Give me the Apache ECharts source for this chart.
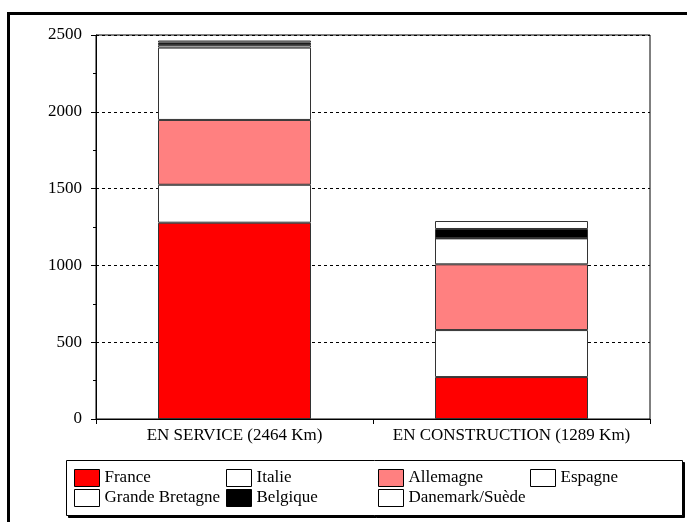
<!DOCTYPE html>
<html>
<head>
<meta charset="utf-8">
<script src="https://cdn.jsdelivr.net/npm/echarts@6/dist/echarts.min.js"></script>
<style>
html,body{margin:0;padding:0;background:#fff;}
#main{width:687px;height:522px;}
</style>
</head>
<body>
<div id="main"></div>
<script>
var categories = ['EN SERVICE (2464 Km)', 'EN CONSTRUCTION (1289 Km)'];
var france = [1278, 273];
var italie = [247, 306];
var allemagne = [422, 428];
var espagne = [471, 169];
var grandeBretagne = [16, 0];
var belgique = [17, 61];
var danemark = [13, 52];
var yTicks = [0, 500, 1000, 1500, 2000, 2500];

var FONT = '"Liberation Serif", "Times New Roman", serif';
var seriesDefs = [
  {name: 'France', data: france, color: '#ff0000'},
  {name: 'Italie', data: italie, color: '#ffffff'},
  {name: 'Allemagne', data: allemagne, color: '#ff8080'},
  {name: 'Espagne', data: espagne, color: '#ffffff'},
  {name: 'Grande Bretagne', data: grandeBretagne, color: '#ffffff'},
  {name: 'Belgique', data: belgique, color: '#000000'},
  {name: 'Danemark/Suède', data: danemark, color: '#ffffff'}
];

function legendCol(left, names) {
  return {
    orient: 'vertical', left: left, top: 469, itemGap: 2,
    itemWidth: 25, itemHeight: 17, icon: 'rect', padding: 0,
    data: names,
    itemStyle: {borderColor: '#000', borderWidth: 1},
    textStyle: {fontFamily: FONT, fontSize: 17, color: '#000'}
  };
}

var chart = echarts.init(document.getElementById('main'), null, {renderer: 'canvas'});
chart.setOption({
  animation: false,
  backgroundColor: '#fff',
  grid: {left: 96, right: 37, top: 35, bottom: 103, show: true, borderColor: '#000', borderWidth: 1, backgroundColor: 'transparent'},
  graphic: [
    {type: 'rect', z: 0, shape: {x: 8.5, y: 13.5, width: 700, height: 600}, style: {fill: 'none', stroke: '#000', lineWidth: 3}},
    {type: 'rect', z: 0, shape: {x: 68.5, y: 462.5, width: 616, height: 55}, style: {fill: '#000', stroke: '#000', lineWidth: 1}},
    {type: 'rect', z: 1, shape: {x: 66.5, y: 460.5, width: 616, height: 55}, style: {fill: '#fff', stroke: '#000', lineWidth: 1}}
  ],
  legend: [
    legendCol(74, ['France', 'Grande Bretagne']),
    legendCol(226, ['Italie', 'Belgique']),
    legendCol(378, ['Allemagne', 'Danemark/Suède']),
    legendCol(530, ['Espagne'])
  ],
  xAxis: {
    type: 'category', data: categories,
    axisLine: {lineStyle: {color: '#000', width: 1}},
    axisTick: {show: true, length: 5, lineStyle: {color: '#000'}},
    axisLabel: {fontFamily: FONT, fontSize: 17, color: '#000', margin: 8, interval: 0, hideOverlap: false},
    splitLine: {show: false}
  },
  yAxis: {
    type: 'value', min: yTicks[0], max: yTicks[yTicks.length - 1], interval: 500,
    axisLine: {show: true, lineStyle: {color: '#000', width: 1}},
    axisTick: {show: true, length: 5, lineStyle: {color: '#000'}},
    minorTick: {show: true, splitNumber: 2, length: 3, lineStyle: {color: '#000'}},
    axisLabel: {fontFamily: FONT, fontSize: 17, color: '#000', margin: 14, formatter: function (v) { return String(v); }},
    splitLine: {show: true, lineStyle: {color: '#000', type: [3, 3], width: 1}}
  },
  series: seriesDefs.map(function (s) {
    return {
      name: s.name, type: 'bar', stack: 'total', data: s.data, barWidth: 153,
      itemStyle: {color: s.color, borderColor: '#333', borderWidth: 1}
    };
  })
});
</script>
</body>
</html>
